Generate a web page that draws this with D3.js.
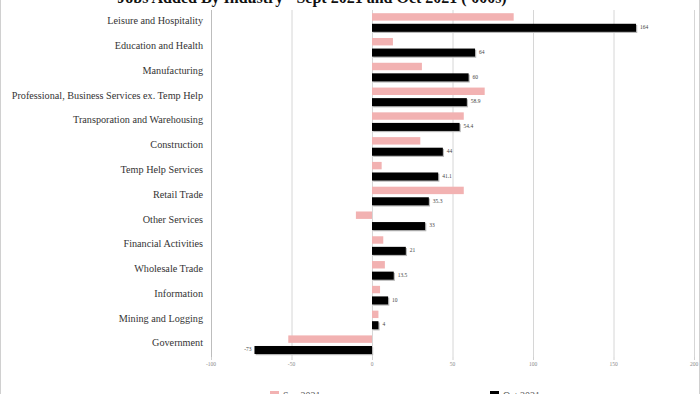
<!DOCTYPE html>
<html>
<head>
<meta charset="utf-8">
<script src="https://cdn.jsdelivr.net/npm/d3@7"></script>
<style>
  body { margin: 0; background: #fff; }
  svg { display: block; }
</style>
</head>
<body>
<div id="chart"></div>
<script>
var categories = ["Leisure and Hospitality", "Education and Health", "Manufacturing",
  "Professional, Business Services ex. Temp Help", "Transporation and Warehousing",
  "Construction", "Temp Help Services", "Retail Trade", "Other Services",
  "Financial Activities", "Wholesale Trade", "Information", "Mining and Logging", "Government"];
var sep2021 = [88, 13, 31, 70, 57, 30, 6, 57, -10, 7, 8, 5, 4, -52];
var oct2021 = [164, 64, 60, 58.9, 54.4, 44, 41.1, 35.3, 33, 21, 13.5, 10, 4, -73];
var xTicks = [-100, -50, 0, 50, 100, 150, 200];
var seriesNames = ["Sep 2021", "Oct 2021"];

var width = 700, height = 394;
var margin = {top: 10, right: 6, bottom: 37, left: 211};

var svg = d3.select("#chart").append("svg")
  .attr("width", width).attr("height", height);

// outer frame
svg.append("rect").attr("x", 0.5).attr("y", -2).attr("width", width - 1).attr("height", height + 4)
  .attr("fill", "none").attr("stroke", "#d0d0d0");

var x = d3.scaleLinear().domain([-100, 200]).range([margin.left, width - margin.right]);
var y = d3.scaleBand().domain(categories).range([margin.top, height - margin.bottom]);
var y1 = d3.scaleBand().domain(["sep", "oct"]).range([3.2, 21.8]).paddingInner(0.24);

// gridlines
svg.append("g").selectAll("line").data(xTicks).enter().append("line")
  .attr("x1", function(d) { return x(d) + 0.5; }).attr("x2", function(d) { return x(d) + 0.5; })
  .attr("y1", margin.top).attr("y2", height - margin.bottom)
  .attr("stroke", function(d) { return d === -100 ? "#bdbdbd" : "#d6d6d6"; })
  .attr("stroke-width", 1);

// x axis labels
var axis = svg.append("g");
axis.selectAll("line").data(xTicks).enter().append("line")
  .attr("x1", function(d) { return x(d) + 0.5; }).attr("x2", function(d) { return x(d) + 0.5; })
  .attr("y1", height - margin.bottom).attr("y2", height - margin.bottom + 3)
  .attr("stroke", "#d0d0d0");
axis.selectAll("text").data(xTicks).enter().append("text")
  .attr("x", function(d) { return x(d); }).attr("y", 366)
  .attr("text-anchor", "middle")
  .attr("font-family", "Liberation Serif, serif").attr("font-size", 5.5)
  .attr("fill", "#8a8a8a")
  .text(function(d) { return d; });

// category labels
svg.append("g").selectAll("text").data(categories).enter().append("text")
  .attr("x", 203).attr("y", function(d) { return y(d) + y.bandwidth() / 2 - 0.5; })
  .attr("text-anchor", "end").attr("dominant-baseline", "middle")
  .attr("font-family", "Liberation Serif, serif").attr("font-size", 10.2)
  .attr("fill", "#333")
  .text(function(d) { return d; });

// Sep bars
svg.append("g").selectAll("rect").data(sep2021).enter().append("rect")
  .attr("x", function(d) { return x(Math.min(0, d)); })
  .attr("y", function(d, i) { return y(categories[i]) + y1("sep"); })
  .attr("width", function(d) { return Math.abs(x(d) - x(0)); })
  .attr("height", y1.bandwidth() - 0.6)
  .attr("fill", "#f2b2b2");

// Oct bars with a small drop shadow
var oct = svg.append("g");
oct.selectAll("rect.shadow").data(oct2021).enter().append("rect")
  .attr("class", "shadow")
  .attr("x", function(d) { return x(Math.min(0, d)) + 1.2; })
  .attr("y", function(d, i) { return y(categories[i]) + y1("oct") + 1.2; })
  .attr("width", function(d) { return Math.abs(x(d) - x(0)); })
  .attr("height", y1.bandwidth())
  .attr("fill", "#b8b8b8");
oct.selectAll("rect.bar").data(oct2021).enter().append("rect")
  .attr("class", "bar")
  .attr("x", function(d) { return x(Math.min(0, d)); })
  .attr("y", function(d, i) { return y(categories[i]) + y1("oct"); })
  .attr("width", function(d) { return Math.abs(x(d) - x(0)); })
  .attr("height", y1.bandwidth())
  .attr("fill", "#000");

// value labels
oct.selectAll("text").data(oct2021).enter().append("text")
  .attr("x", function(d) { return d < 0 ? x(d) - 3 : x(d) + 4; })
  .attr("y", function(d, i) { return y(categories[i]) + y1("oct") + y1.bandwidth() / 2; })
  .attr("text-anchor", function(d) { return d < 0 ? "end" : "start"; })
  .attr("dominant-baseline", "middle")
  .attr("font-family", "Liberation Serif, serif").attr("font-size", 5.5)
  .attr("fill", "#444")
  .text(function(d) { return d; });

// title, mostly above the visible frame
svg.append("text")
  .attr("x", 312).attr("y", 3)
  .attr("text-anchor", "middle")
  .attr("font-family", "Liberation Serif, serif").attr("font-size", 16)
  .attr("font-weight", "bold").attr("fill", "#111")
  .text("Jobs Added By Industry - Sept 2021 and Oct 2021 ('000s)");

// legend, cut off by the bottom edge
var legend = svg.append("g");
var legendX = [270, 490];
var legendColors = ["#f2b2b2", "#000"];
legend.selectAll("rect").data(seriesNames).enter().append("rect")
  .attr("x", function(d, i) { return legendX[i]; }).attr("y", 391)
  .attr("width", 9).attr("height", 9)
  .attr("fill", function(d, i) { return legendColors[i]; });
legend.selectAll("text").data(seriesNames).enter().append("text")
  .attr("x", function(d, i) { return legendX[i] + 13; }).attr("y", 399)
  .attr("font-family", "Liberation Serif, serif").attr("font-size", 10)
  .attr("fill", "#555")
  .text(function(d) { return d; });
</script>
</body>
</html>
